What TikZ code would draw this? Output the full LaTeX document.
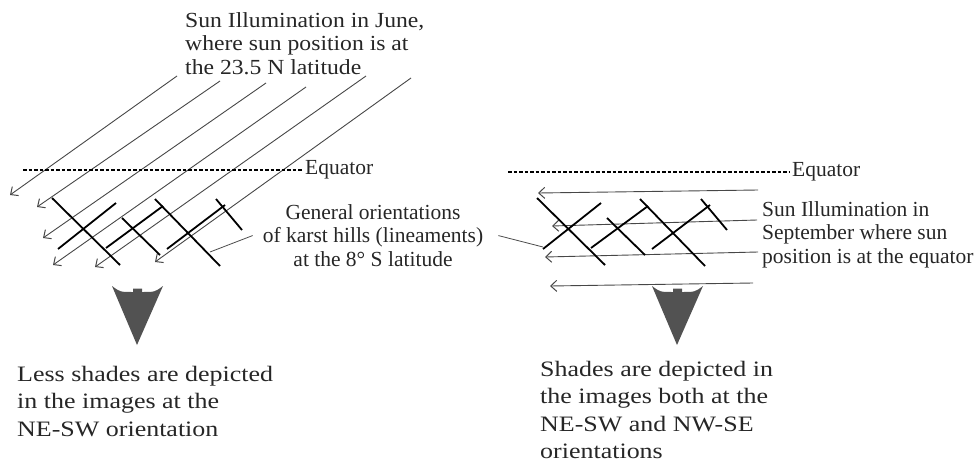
\documentclass[tikz,border=0pt]{standalone}
\usepackage{fontspec}
\setmainfont{Liberation Serif}
\usetikzlibrary{arrows.meta}
\tikzset{
 ks ray/.style={line width=.9pt,draw=black!72,
                -{Straight Barb[length=6pt,width=11pt,line width=1pt]}},
 ks ridge/.style={line width=1.8pt,draw=black},
 ks equator/.style={line width=1.1pt,dash pattern=on 3.5pt off 2pt},
 ks pointer/.style={line width=.8pt,draw=black!70},
 ks note/.style={font=\fontsize{21.5}{23.8}\selectfont,inner sep=0pt,
                 text=black!85,transform shape},
 ks big note/.style={font=\fontsize{22}{27.3}\selectfont,align=left,inner sep=0pt,
                     text=black!85,xscale=1.18,transform shape},
 ks shade/.style={fill=black!68,draw=none}
}

\begin{document}
\begin{tikzpicture}[x=1pt,y=-1pt]
 \useasboundingbox (0,0) rectangle (977,466);
 % June: oblique rays from the NE
 \foreach \i/\xa/\ya/\xb/\yb in {1/177/76/10/195,2/220/81/37/207,3/266/83/43/238,
                                 4/306/87/53/265,5/366/76/95/267,6/411/78/155/262}{
   \coordinate (jra\i) at (\xa,\ya);
   \coordinate (jrb\i) at (\xb,\yb);
   \draw[ks ray] (jra\i)--(jrb\i);
 }
 \node[ks note,align=left,anchor=north west,xscale=1.10] (june) at (185,12)
   {Sun Illumination in June,\\where sun position is at\\the 23.5 N latitude};
 % equators
 \node[ks note,inner sep=3pt,anchor=west] (eqL) at (302,170) {Equator};
 \coordinate (eqLa) at (23,170);
 \draw[ks equator] (eqLa)--(eqL.west);
 \node[ks note,inner sep=3pt,anchor=west] (eqR) at (789,172) {Equator};
 \coordinate (eqRa) at (508,172);
 \draw[ks equator] (eqRa)--(eqR.west);
 % September: rays along the equator
 \foreach \i/\xa/\ya/\xb/\yb in {1/758/190/538/193,2/757/220/552/226,
                                 3/758/252/545/257,4/753/283/550/286}{
   \coordinate (sra\i) at (\xa,\ya);
   \coordinate (srb\i) at (\xb,\yb);
   \draw[ks ray] (sra\i)--(srb\i);
 }
 \node[ks note,align=left,anchor=north west] (sept) at (762,201)
   {Sun Illumination in\\September where sun\\position is at the equator};
 % karst hills (lineaments), both panels
 \foreach \dx in {0,485}{
   \foreach \xa/\ya/\xb/\yb in {52/198/120/265,122/218/160/255,155/199/220/266,
                                216/199/242/230,58/249/116/203,106/248/163/206,
                                167/249/225/205}{
     \draw[ks ridge] (\xa+\dx,\ya)--(\xb+\dx,\yb);
   }
 }
 \node[ks note,align=center,anchor=north] (gen) at (373,204)
   {General orientations\\of karst hills (lineaments)\\at the 8\textdegree{} S latitude};
 \coordinate (genL) at (210,252);
 \coordinate (genR) at (543,247);
 \draw[ks pointer] ([xshift=-10pt]gen.west)--(genL);
 \draw[ks pointer] ([xshift=15pt]gen.east)--(genR);
 % shade arrows
 \foreach \cx in {137,677}{
   \fill[ks shade] (\cx-25,286)--(\cx,345)--(\cx+26,286)
     .. controls (\cx+18,292) .. (\cx+5,292)--(\cx+5,288.5)--(\cx-4,288.5)
     --(\cx-4,292) .. controls (\cx-17,292) .. (\cx-25,286)--cycle;
 }
 \node[ks big note,anchor=north west] (less) at (17,366)
   {Less shades are depicted\\in the images at the\\NE-SW orientation};
 \node[ks big note,anchor=north west] (both) at (540,361)
   {Shades are depicted in\\the images both at the\\NE-SW and NW-SE\\orientations};
\end{tikzpicture}
\end{document}
